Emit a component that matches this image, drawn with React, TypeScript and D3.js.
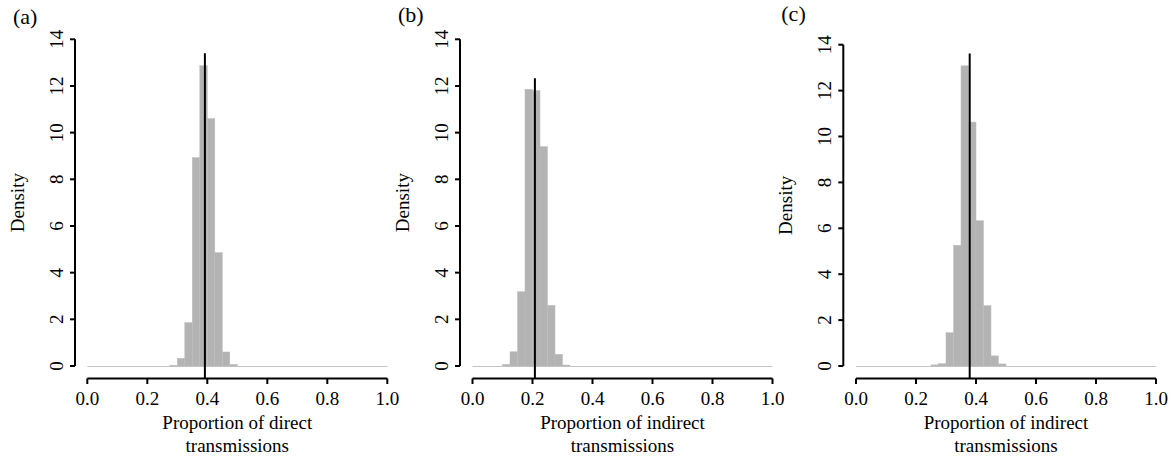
import React from "react";
import * as d3 from "d3";

// ---- data ----
const panelLabels = ["(a)", "(b)", "(c)"];
const titleLine1 = ["Proportion of direct", "Proportion of indirect", "Proportion of indirect"];
const titleLine2 = ["transmissions", "transmissions", "transmissions"];

const binWidth = 0.025;
const binsA = [0.275, 0.3, 0.325, 0.35, 0.375, 0.4, 0.425, 0.45, 0.475];
const densA = [0.03, 0.33, 1.86, 8.93, 12.87, 10.6, 4.86, 0.6, 0.07];
const binsB = [0.1, 0.125, 0.15, 0.175, 0.2, 0.225, 0.25, 0.275, 0.3];
const densB = [0.07, 0.61, 3.18, 11.86, 11.8, 9.4, 2.6, 0.5, 0.04];
const binsC = [0.25, 0.275, 0.3, 0.325, 0.35, 0.375, 0.4, 0.425, 0.45, 0.475];
const densC = [0.05, 0.1, 1.45, 5.26, 13.08, 10.63, 6.33, 2.63, 0.44, 0.09];

const vlineX = [0.392, 0.208, 0.379];
const vlineTop = [13.4, 12.33, 13.62];

const xTicks = [0, 0.2, 0.4, 0.6, 0.8, 1.0];
const yTicks = [0, 2, 4, 6, 8, 10, 12, 14];

const panelBins = [binsA, binsB, binsC];
const panelDens = [densA, densB, densC];

// ---- layout ----
const yAxisXs = [75, 460, 843.3];
const x0s = [87.3, 472.5, 856];
const yTopPx = [39.3, 39.3, 44.7];
const y0Px = 366;
const xAxisY = 378.5;
const font = "'Liberation Serif', 'Times New Roman', Times, serif";

function Panel({ i }: { i: number }) {
  const x = d3.scaleLinear().domain([0, 1]).range([x0s[i], x0s[i] + 300]);
  const y = d3.scaleLinear().domain([0, 14]).range([y0Px, yTopPx[i]]);
  const ax = yAxisXs[i];
  const bins = panelBins[i];
  const dens = panelDens[i];
  const cx = (x(0) + x(1)) / 2;
  const yMid = (y(-0.56) + y(14.56)) / 2;
  return (
    <g>
      <text x={ax - 62} y={i === 0 ? 24 : i === 1 ? 22 : 21} fontSize={22} fontFamily={font}>
        {panelLabels[i]}
      </text>
      {/* baseline of empty bins */}
      <line x1={x(0)} x2={x(1)} y1={y(0) + 0.5} y2={y(0) + 0.5} stroke="#c4c4c4" strokeWidth={1} />
      {bins.map((b, k) => (
        <rect
          key={k}
          x={x(b)}
          width={x(b + binWidth) - x(b)}
          y={y(dens[k])}
          height={y(0) - y(dens[k])}
          fill="#b3b3b3"
          stroke="#bdbdbd"
          strokeWidth={0.5}
        />
      ))}
      <line
        x1={x(vlineX[i])}
        x2={x(vlineX[i])}
        y1={xAxisY}
        y2={y(vlineTop[i])}
        stroke="#000"
        strokeWidth={2}
      />
      {/* x axis */}
      <line x1={x(0)} x2={x(1)} y1={xAxisY} y2={xAxisY} stroke="#000" strokeWidth={2} />
      {xTicks.map((t) => (
        <g key={t}>
          <line x1={x(t)} x2={x(t)} y1={xAxisY} y2={xAxisY + 5.5} stroke="#000" strokeWidth={2} />
          <text x={x(t)} y={404.5} textAnchor="middle" fontSize={19} fontFamily={font}>
            {t.toFixed(1)}
          </text>
        </g>
      ))}
      <text x={cx} y={428.5} textAnchor="middle" fontSize={19} fontFamily={font}>
        {titleLine1[i]}
      </text>
      <text x={cx} y={452} textAnchor="middle" fontSize={19} fontFamily={font}>
        {titleLine2[i]}
      </text>
      {/* y axis */}
      <line x1={ax} x2={ax} y1={y(0)} y2={y(14)} stroke="#000" strokeWidth={2} />
      {yTicks.map((t) => (
        <g key={t}>
          <line x1={ax - 5} x2={ax} y1={y(t)} y2={y(t)} stroke="#000" strokeWidth={2} />
          <text
            transform={`translate(${ax - 12.5},${y(t)}) rotate(-90)`}
            textAnchor="middle"
            fontSize={19}
            fontFamily={font}
          >
            {t}
          </text>
        </g>
      ))}
      <text
        transform={`translate(${ax - 51},${yMid}) rotate(-90)`}
        textAnchor="middle"
        fontSize={19}
        fontFamily={font}
      >
        Density
      </text>
    </g>
  );
}

export default function App() {
  return (
    <svg
      width={1176}
      height={460}
      style={{ position: "absolute", left: 0, top: 0, background: "#fff" }}
    >
      <rect width={1176} height={460} fill="#fff" />
      {[0, 1, 2].map((i) => (
        <Panel key={i} i={i} />
      ))}
    </svg>
  );
}
